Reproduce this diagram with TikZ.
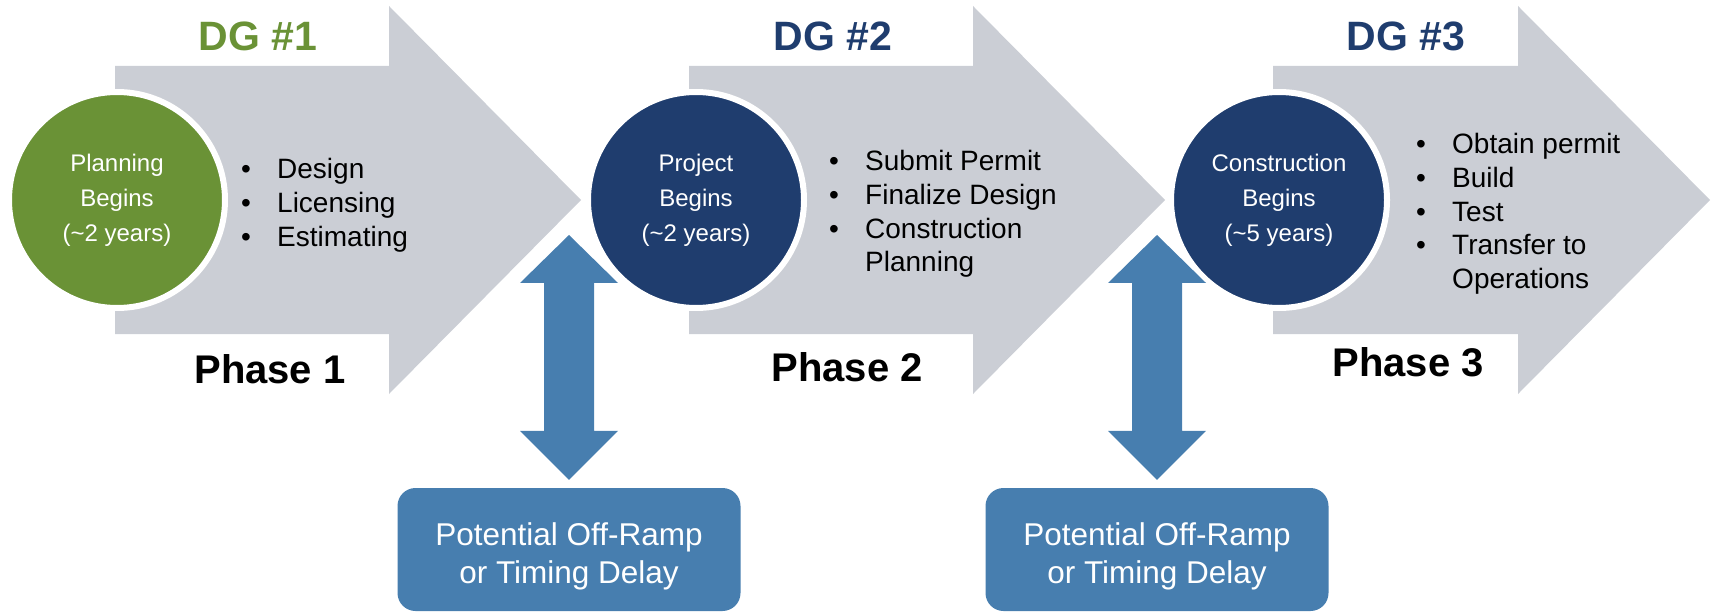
\documentclass[tikz,border=0pt]{standalone}
\usepackage{fontspec}
\setmainfont{Liberation Sans}
\usetikzlibrary{calc,positioning}
\definecolor{phasegray}{RGB}{203,206,213}
\definecolor{dggreen}{RGB}{106,146,54}
\definecolor{dgnavy}{RGB}{31,61,110}
\definecolor{rampblue}{RGB}{71,126,175}
\newcommand{\bul}{\makebox[36pt][l]{\textbullet}}
\newcommand{\ind}{\hspace*{36pt}}
\tikzset{
    phase/.style = {fill=phasegray},
    gate/.style = {
        circle, fill=#1, draw=white, line width=6pt,
        minimum size=216pt, inner sep=0, align=center, text=white,
        font=\fontsize{24}{35}\selectfont
    },
    dglabel/.style = {
        text=#1, inner sep=0,
        font=\bfseries\fontsize{41}{49}\selectfont
    },
    phaselabel/.style = {
        inner sep=0,
        font=\bfseries\fontsize{40}{48}\selectfont
    },
    tasks/.style = {
        align=left, anchor=north west, inner sep=0,
        font=\fontsize{28}{33.8}\selectfont
    },
    rampbox/.style = {
        fill=rampblue, rounded corners=18pt, inner sep=0,
        minimum width=343pt, minimum height=123pt
    },
    ramptext/.style = {
        align=center, text=white, inner sep=0,
        font=\fontsize{31.5}{38}\selectfont
    },
    ramp/.style = {fill=rampblue}
}

\begin{document}
\begin{tikzpicture}[x=1pt,y=-1pt]

\useasboundingbox (0,0) rectangle (1713,612);

% phase arrows
\fill[phase] (115,66) -- (389,66) -- (389,6) -- (581,200) -- (389,394) -- (389,334) -- (115,334) -- cycle;
\fill[phase] (689,66) -- (973,66) -- (973,6) -- (1165,200) -- (973,394) -- (973,334) -- (689,334) -- cycle;
\fill[phase] (1273,66) -- (1518,66) -- (1518,6) -- (1710,200) -- (1518,394) -- (1518,334) -- (1273,334) -- cycle;

% decision gates
\node[gate=dggreen](Planning) at (117,200){Planning\\Begins\\(\textasciitilde2 years)};
\node[gate=dgnavy](Project) at (696,200){Project\\Begins\\(\textasciitilde2 years)};
\node[gate=dgnavy](Construction) at (1279,200){Construction\\Begins\\(\textasciitilde5 years)};

\node[dglabel=dggreen](DG1) at (258,36){DG \#1};
\node[dglabel=dgnavy](DG2) at (833,36){DG \#2};
\node[dglabel=dgnavy](DG3) at (1406,36){DG \#3};

\node[phaselabel](Phase1) at (270,369){Phase 1};
\node[phaselabel](Phase2) at (847,367){Phase 2};
\node[phaselabel](Phase3) at (1408,362){Phase 3};

\node[tasks](Tasks1) at (241,158){\bul Design\\\bul Licensing\\\bul Estimating};
\node[tasks](Tasks2) at (829,150){\bul Submit Permit\\\bul Finalize Design\\\bul Construction\\\ind Planning};
\node[tasks](Tasks3) at (1416,133){\bul Obtain permit\\\bul Build\\\bul Test\\\bul Transfer to\\\ind Operations};

% off-ramps
\node[rampbox](BoxA) at (569,549.5){};
\node[ramptext](OffA) at ([yshift=-6.5pt]BoxA.center){Potential Off-Ramp\\or Timing Delay};
\node[rampbox](BoxB) at (1157,549.5){};
\node[ramptext](OffB) at ([yshift=-6.5pt]BoxB.center){Potential Off-Ramp\\or Timing Delay};

\coordinate (UpA)   at (569,235);
\coordinate (DownA) at ([yshift=8pt]BoxA.north);
\coordinate (UpB)   at (1157,235);
\coordinate (DownB) at ([yshift=8pt]BoxB.north);

\fill[ramp] (UpA) -- ++(49,48) -- ++(-24,0) -- ($(DownA)+(25,-49)$) -- ++(24,0) -- (DownA)
    -- ++(-49,-49) -- ++(24,0) -- ($(UpA)+(-25,48)$) -- ++(-24,0) -- cycle;
\fill[ramp] (UpB) -- ++(49,48) -- ++(-24,0) -- ($(DownB)+(25,-49)$) -- ++(24,0) -- (DownB)
    -- ++(-49,-49) -- ++(24,0) -- ($(UpB)+(-25,48)$) -- ++(-24,0) -- cycle;

\end{tikzpicture}
\end{document}
